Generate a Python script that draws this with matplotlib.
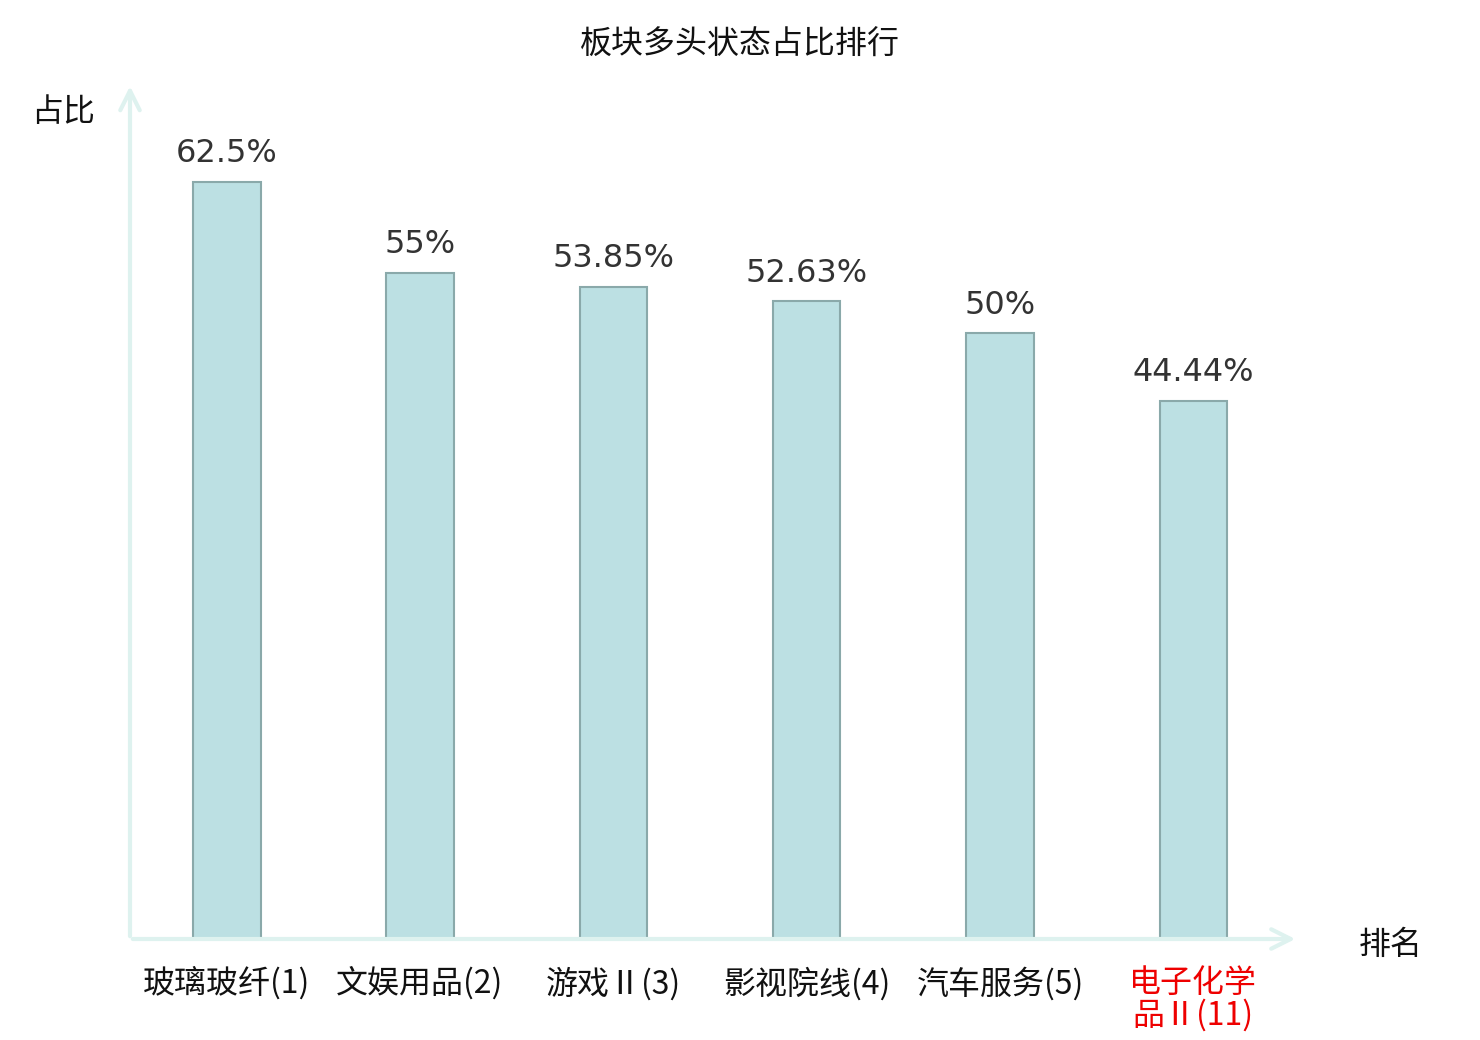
import matplotlib
matplotlib.use('Agg')
import matplotlib.pyplot as plt

plt.rcParams['font.family'] = ['Noto Sans CJK SC', 'DejaVu Sans']

categories = ['玻璃玻纤(1)', '文娱用品(2)', '游戏Ⅱ(3)', '影视院线(4)', '汽车服务(5)', '电子化学\n品Ⅱ(11)']
values = [62.5, 55, 53.85, 52.63, 50, 44.44]
value_labels = ['62.5%', '55%', '53.85%', '52.63%', '50%', '44.44%']
label_colors = ['#111111', '#111111', '#111111', '#111111', '#111111', '#ee0000']

fig = plt.figure(figsize=(14.8, 10.4), dpi=100)
ax = fig.add_axes([130 / 1480, 101 / 1040, 1160 / 1480, 848 / 1040])

x = list(range(len(values)))
ax.bar(x, values, width=0.35, color='#bce0e3', edgecolor='#8aa9aa', linewidth=1.5, zorder=3)

for xi, v, lab in zip(x, values, value_labels):
    ax.annotate(lab, (xi, v), xytext=(0, 9), textcoords='offset points',
                ha='center', va='bottom', fontsize=23, color='#333333',
                family='DejaVu Sans')

ax.set_xlim(-0.5, 5.5)
ax.set_ylim(0, 70)
for s in ax.spines.values():
    s.set_visible(False)
ax.set_yticks([])
ax.set_xticks(x)
ax.set_xticklabels(categories, fontsize=23, linespacing=1.0)
for t, c in zip(ax.get_xticklabels(), label_colors):
    t.set_color(c)
ax.tick_params(axis='x', length=0, pad=20)

# axis arrows
axis_col = '#def2ef'
ax.annotate('', xy=(1.007, 0), xytext=(0, 0), xycoords='axes fraction',
            arrowprops=dict(arrowstyle='->', color=axis_col, lw=3, mutation_scale=35),
            annotation_clip=False)
ax.annotate('', xy=(0, 1.009), xytext=(0, 0), xycoords='axes fraction',
            arrowprops=dict(arrowstyle='->', color=axis_col, lw=3, mutation_scale=35),
            annotation_clip=False)

fig.text(1391 / 1480, 1 - 945 / 1040, '排名', ha='center', va='center', fontsize=23, color='#111111')
fig.text(63 / 1480, 1 - 112 / 1040, '占比', ha='center', va='center', fontsize=23, color='#111111')
fig.text(740 / 1480, 1 - 45 / 1040, '板块多头状态占比排行', ha='center', va='center', fontsize=23, color='#111111')

fig.savefig('out.png', dpi=100)
